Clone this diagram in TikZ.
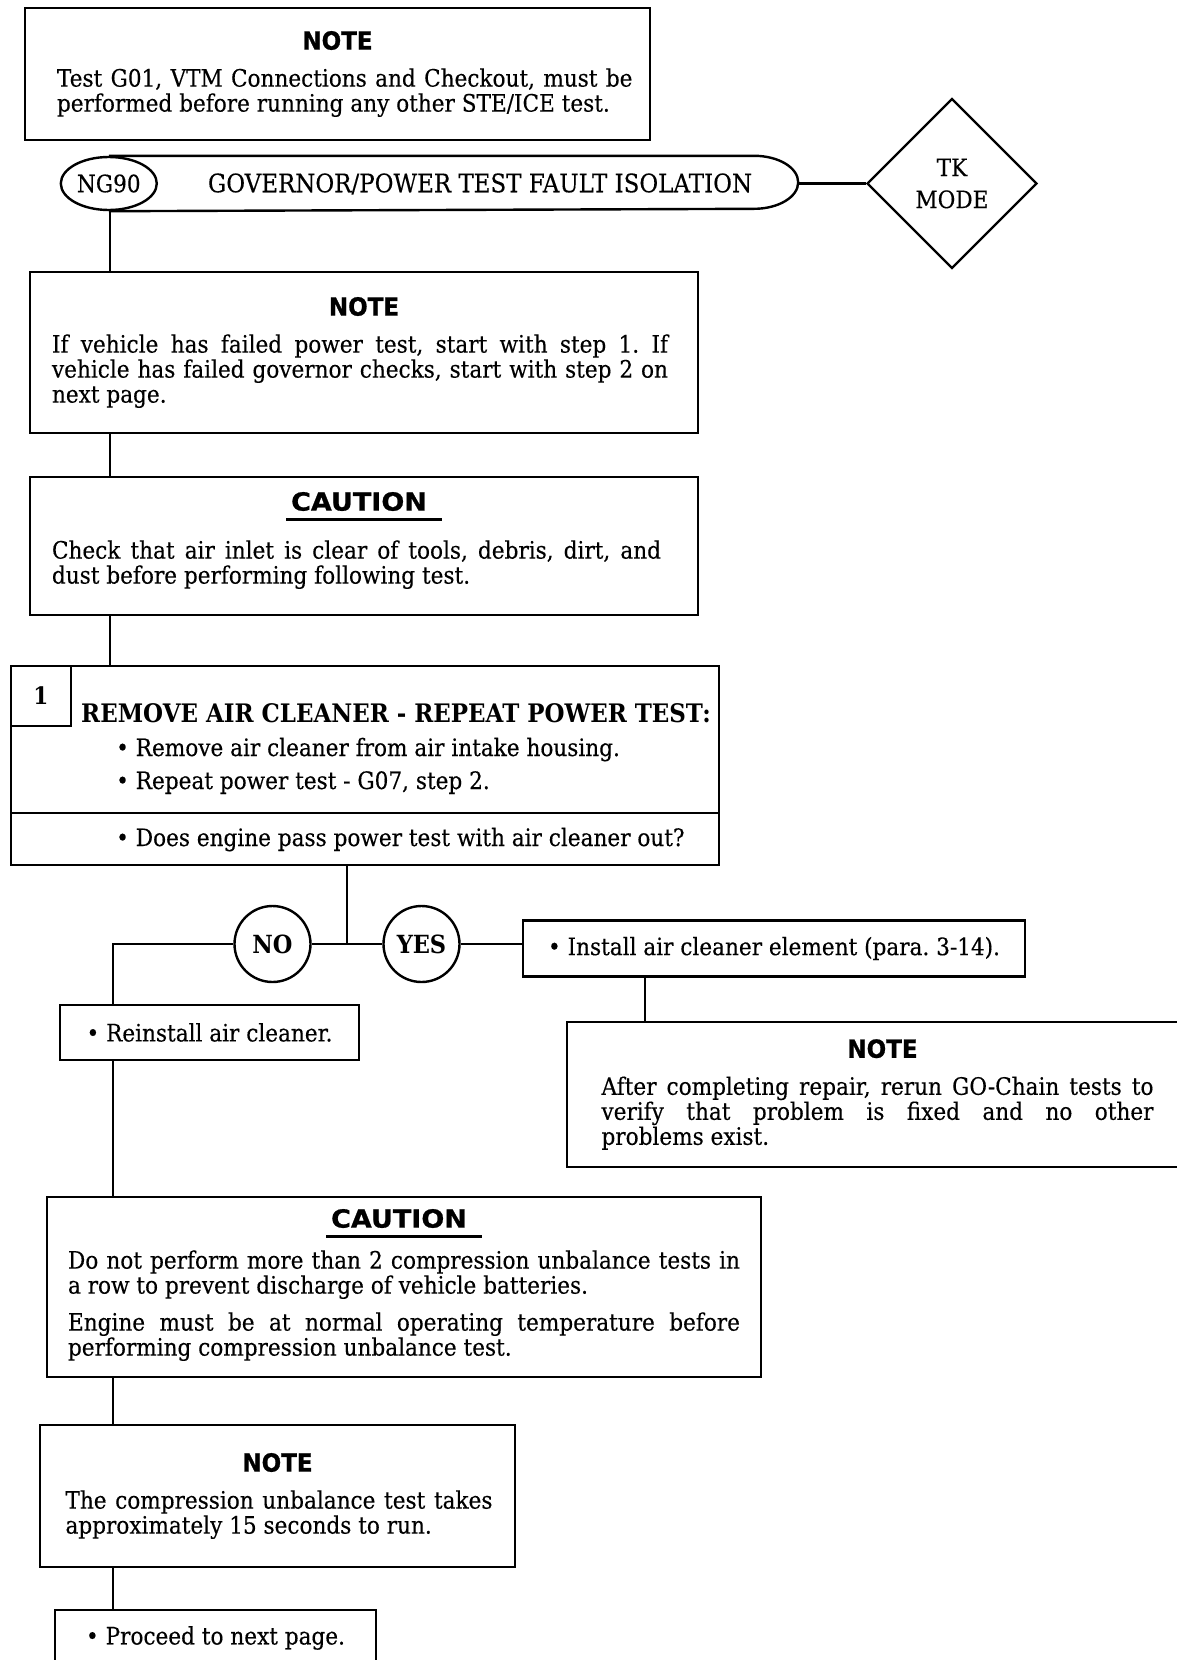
\documentclass[tikz,border=0pt]{standalone}
\usepackage{fontspec}
\setmainfont{DejaVu Serif}[FakeStretch=0.9, UprightFeatures={FakeBold=0.3}]
\newfontfamily\headfont{DejaVu Sans}[FakeStretch=0.92, BoldFeatures={FakeBold=0.8}]
\newfontfamily\cautfont{DejaVu Sans}[FakeStretch=1.08, BoldFeatures={FakeBold=0.8}]
\usetikzlibrary{positioning,shapes.geometric}

\setlength{\parindent}{0pt}
\hyphenpenalty=10000
\exhyphenpenalty=10000
\tolerance=10000
\frenchspacing

\newcommand{\bodyfont}{\fontsize{24pt}{25pt}\selectfont}
\newcommand{\headsize}{\fontsize{25pt}{25pt}\selectfont}
\newcommand{\titlefont}{\fontsize{25.5pt}{26pt}\selectfont}
\newcommand{\steptitlefont}{\fontsize{25.5pt}{26pt}\selectfont\bfseries}
\newsavebox{\headbox}
\newcommand{\notehead}{{\centering\headfont\bfseries\headsize NOTE\par}\vspace{12pt}}
\newcommand{\cautionhead}[1][12pt]{%
  {\centering\cautfont\bfseries\headsize
   \sbox{\headbox}{CAUTION}%
   \rlap{\smash{\rule[-10pt]{\dimexpr\wd\headbox+20pt\relax}{2.6pt}}}%
   \kern5pt\usebox{\headbox}\kern15pt\par}%
  \vspace{#1}}
\newcommand{\bodyshift}[1]{\leftskip=#1\rightskip=-#1\relax}

\begin{document}
\begin{tikzpicture}[
    x=1pt, y=-1pt,
    line width=2.4pt,
    font=\bodyfont,
    panel/.style={
        rectangle,
        draw,
        inner sep=0pt,
        align=justify
    },
    frame/.style={
        rectangle,
        draw,
        inner sep=0pt
    },
    actionbox/.style={
        rectangle,
        draw,
        inner sep=0pt,
        minimum height=56pt
    },
    txt/.style={inner sep=0pt},
    choice/.style={
        circle,
        draw,
        fill=white,
        inner sep=0pt,
        minimum size=76pt,
        font=\fontsize{25pt}{25pt}\selectfont\bfseries
    },
    tagoval/.style={
        ellipse,
        draw,
        fill=white,
        inner sep=0pt,
        minimum width=96pt,
        minimum height=53pt
    }
]
\useasboundingbox (0,0) rectangle (1177,1660);
\clip (0,0) rectangle (1177,1660);

% Note above the title bar
\node[panel, minimum width=625pt, minimum height=132pt, text width=590pt] (note1) at (337.5,74)
  {\notehead \leftskip=14.5pt\relax Test G01, VTM Connections and Checkout, must be\linebreak performed before running any other STE/ICE test.\par};

% Title bar with tag and mode diamond
\node[frame, draw=none, minimum width=687pt, minimum height=53pt] (banner) at (453.5,183.5) {};
\draw (banner.north west) -- ([xshift=-44pt]banner.north east)
  arc[start angle=90, end angle=-90, x radius=44pt, y radius=26.5pt] -- (banner.south west);
\node[font=\titlefont] (title) at (480,184) {GOVERNOR/POWER TEST FAULT ISOLATION};
\node[tagoval] (ng90) at (banner.west) {NG90};
\node[diamond, draw, inner sep=0pt, minimum width=170pt, minimum height=170pt, align=center] (tk) at (952,183.5) {TK\\[7pt]MODE};
\draw (banner.east) -- (tk.west);

% Note and caution before step 1
\node[panel, minimum width=668pt, minimum height=161pt, text width=616pt] (note2) at (364,352.5)
  {\notehead \bodyshift{-4pt}If vehicle has failed power test, start with step 1. If\linebreak vehicle has failed governor checks, start with step 2 on\linebreak next page.\par};
\node[panel, minimum width=668pt, minimum height=138pt, text width=609pt] (caution1) at (364,546)
  {\cautionhead[23pt] \bodyshift{-7.5pt}Check that air inlet is clear of tools, debris, dirt, and\linebreak dust before performing following test.\par\kern11pt};

% Step 1
\node[frame, minimum width=708pt, minimum height=147pt] (step1) at (365,739.5) {};
\node[frame, minimum width=708pt, minimum height=52pt] (q1) at (365,839) {};
\node[frame, minimum size=60pt, anchor=north west, font=\bodyfont\bfseries] (num1) at (step1.north west) {1};
\node[txt, anchor=base west, font=\steptitlefont] (steptitle) at (80,722) {REMOVE AIR CLEANER - REPEAT POWER TEST:};
\node[txt, anchor=base west] (stepa) at (115,756) {• Remove air cleaner from air intake housing.};
\node[txt, anchor=base west] (stepb) at (115,789) {• Repeat power test - G07, step 2.};
\node[txt, anchor=base west] (ask1) at (115,846) {• Does engine pass power test with air cleaner out?};

\coordinate (spine) at (110,0);
\draw (spine |- ng90.south) -- (spine |- note2.north);
\draw (spine |- note2.south) -- (spine |- caution1.north);
\draw (spine |- caution1.south) -- (spine |- step1.north);

% Answer branches
\coordinate (split) at (347,944);
\coordinate (nobend) at (113,944);
\node[choice] (no) at (272.5,944) {NO};
\node[choice] (yes) at (421.5,944) {YES};
\draw (q1.south -| split) -- (split);
\draw (no) -- (split) -- (yes);

\node[actionbox, minimum width=502pt] (install) at (774,948.5) {• Install air cleaner element (para. 3-14).};
\node[actionbox, minimum width=299pt, minimum height=55pt] (reinstall) at (209.5,1032.5) {• Reinstall air cleaner.};
\draw (yes) -- (yes -| install.west);
\draw (no) -- (nobend) -- (nobend |- reinstall.north);

% YES side
\node[panel, minimum width=631pt, minimum height=145pt, text width=552pt] (note3) at (882.5,1094.5)
  {\notehead \bodyshift{-5pt}After completing repair, rerun GO-Chain tests to\linebreak verify that problem is fixed and no other\linebreak problems exist.\par};
\draw ([xshift=-129pt]install.south) -- ([xshift=-129pt]install.south |- note3.north);

% NO side
\node[panel, minimum width=714pt, minimum height=180pt, text width=672pt] (caution2) at (404,1287)
  {\cautionhead[16pt] Do not perform more than 2 compression unbalance tests in\linebreak a row to prevent discharge of vehicle batteries.\par\vspace{12pt}
   Engine must be at normal operating temperature before\linebreak performing compression unbalance test.\par\kern4pt};
\node[panel, minimum width=475pt, minimum height=142pt, text width=430pt] (note4) at (277.5,1496)
  {\notehead \leftskip=3pt\relax The compression unbalance test takes\linebreak approximately 15 seconds to run.\par};
\node[actionbox, minimum width=321pt] (final) at (215.5,1638) {• Proceed to next page.};

\draw (nobend |- reinstall.south) -- (nobend |- caution2.north);
\draw (nobend |- caution2.south) -- (nobend |- note4.north);
\draw (nobend |- note4.south) -- (nobend |- final.north);

\end{tikzpicture}
\end{document}
